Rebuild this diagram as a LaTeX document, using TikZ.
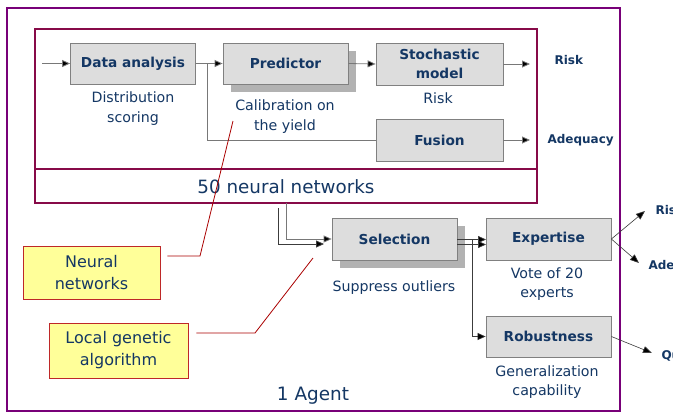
\documentclass[tikz,border=0pt]{standalone}
\usepackage{fontspec}
\setmainfont{DejaVu Sans}
\usetikzlibrary{arrows.meta,shadows}

\definecolor{agentpurple}{RGB}{120,0,120}
\definecolor{netred}{RGB}{135,10,72}
\definecolor{boxfill}{RGB}{221,221,221}
\definecolor{boxline}{RGB}{128,128,128}
\definecolor{shadowgray}{RGB}{178,178,178}
\definecolor{navy}{RGB}{20,55,100}
\definecolor{notefill}{RGB}{255,255,153}
\definecolor{noteline}{RGB}{190,40,40}
\definecolor{leader}{RGB}{170,0,0}
\definecolor{wire}{RGB}{120,120,120}
\definecolor{darkwire}{RGB}{60,60,60}

\tikzset{
  stage/.style={draw=boxline, fill=boxfill, line width=0.8pt, text=navy,
    font=\fontsize{13.7}{19}\selectfont\bfseries, align=center,
    minimum width=125pt, minimum height=41pt, inner sep=2pt},
  shadowed/.style={general shadow={fill=shadowgray, shadow xshift=8pt, shadow yshift=-8pt}},
  caption/.style={text=navy, font=\fontsize{14.2}{19.5}\selectfont, align=center, inner sep=0pt},
  outlabel/.style={text=navy, font=\fontsize{12}{14}\selectfont\bfseries, anchor=west},
  note/.style={draw=noteline, fill=notefill, line width=0.9pt, text=navy,
    font=\fontsize{16}{22}\selectfont, align=center},
  flow/.style={draw=wire, line width=0.8pt, -{Triangle[length=8pt,width=7pt,fill=black]}},
  plain/.style={draw=wire, line width=0.8pt},
  point/.style={draw=darkwire, line width=0.6pt, -{Triangle[length=9pt,width=7pt,fill=black]}},
  pointer/.style={draw=leader, line width=0.8pt},
}

\begin{document}
\begin{tikzpicture}[x=1pt, y=-1pt]
\useasboundingbox[fill=white] (0,0) rectangle (673,413);

% agent frame
\draw[agentpurple, line width=2.2pt] (7,8) rectangle (620,411);
\node[text=navy, font=\fontsize{18.4}{20}\selectfont] (agent) at (313,396) {1 Agent};

% neural network block
\node[draw=netred, line width=1.1pt, minimum width=502pt, minimum height=174pt,
      inner sep=0pt] (nets) at (286,116) {};
\draw[netred, line width=1.1pt] (nets.west |- 0,169) -- (nets.east |- 0,169);
\node[text=navy, font=\fontsize{18.3}{20}\selectfont] (netlabel) at (286,187) {50 neural networks};

% stages inside the network block
\node[stage] (da) at (133,63.5) {Data analysis};
\node[stage, shadowed] (pred) at (285.5,63.5) {Predictor};
\node[stage, minimum width=127pt, minimum height=42pt] (stoch) at (439.5,64) {Stochastic\\model};
\node[stage, minimum width=127pt, minimum height=42pt] (fusion) at (439.5,140) {Fusion};

\node[caption] (dacap) at (133,108.5) {Distribution\\scoring};
\node[caption] (predcap) at (285,116.5) {Calibration on\\the yield};
\node[caption] (stochcap) at (438,98) {Risk};

\coordinate (in) at (42,63.5);
\coordinate (split) at (207,63.5);
\coordinate (riskend) at (530,64);
\coordinate (adeqend) at (530,140);
\node[outlabel] (risk1) at (551,60) {Risk};
\node[outlabel] (adeq1) at (544,140) {Adequacy};

\draw[flow] (in) -- (da.west);
\draw[flow] (da.east) -- (pred.west);
\draw[plain] (split) |- (fusion.west);
\draw[flow] (pred.east) -- (stoch.west);
\draw[flow] (stoch.east) -- (riskend);
\draw[flow] (fusion.east) -- (adeqend);

% selection and the two evaluators
\node[stage, shadowed, minimum height=42pt] (sel) at (394.5,239) {Selection};
\node[stage, minimum height=42pt] (exp) at (548.5,239) {Expertise};
\node[stage] (rob) at (548.5,336.5) {Robustness};

\node[caption] (selcap) at (394,288) {Suppress outliers};
\node[caption] (expcap) at (547,284) {Vote of 20\\experts};
\node[caption] (robcap) at (547,382) {Generalization\\capability};

\coordinate (feedA) at (286,203);
\coordinate (feedB) at (278,208);
\coordinate (tipB) at (324,244);
\draw[flow] (feedA) |- (sel.west);
\draw[draw=darkwire, line width=0.8pt, -{Triangle[length=8pt,width=7pt,fill=black]}] (feedB) |- (tipB);

\coordinate (outA) at (457,239.5);
\coordinate (outB) at (457,244.5);
\coordinate (inA) at (486,239.5);
\coordinate (inB) at (486,244.5);
\coordinate (fork) at (472,239.5);
\draw[draw=darkwire, line width=0.6pt, -{Triangle[length=8pt,width=7pt,fill=black]}] (outA) -- (inA);
\draw[draw=darkwire, line width=0.6pt, -{Triangle[length=8pt,width=7pt,fill=black]}] (outB) -- (inB);
\draw[draw=darkwire, line width=0.6pt, -{Triangle[length=8pt,width=7pt,fill=black]}] (fork) |- (rob.west);

% results leaving the agent
\coordinate (riskend2) at (645,211);
\coordinate (adeqend2) at (639,263);
\coordinate (qualend) at (652,353);
\draw[point] (exp.east) -- (riskend2);
\draw[point] (exp.east) -- (adeqend2);
\draw[point] (rob.east) -- (qualend);
\node[outlabel] (risk2) at (652,210) {Risk};
\node[outlabel] (adeq2) at (645,266) {Adequacy};
\node[outlabel] (qual2) at (658,356) {Quality};

% callouts
\node[note, minimum width=137pt, minimum height=53pt] (nn) at (91.5,272.5) {Neural\\networks};
\node[note, minimum width=139pt, minimum height=55pt] (lga) at (118.5,350.5) {Local genetic\\algorithm};
\coordinate (nnbend) at (200,256);
\coordinate (nntip) at (233,121);
\coordinate (lgabend) at (255,333);
\coordinate (lgatip) at (313,258);
\draw[pointer] ([xshift=7pt]nn.east |- nnbend) -- (nnbend) -- (nntip);
\draw[pointer] ([xshift=8pt]lga.east |- lgabend) -- (lgabend) -- (lgatip);
\end{tikzpicture}
\end{document}
